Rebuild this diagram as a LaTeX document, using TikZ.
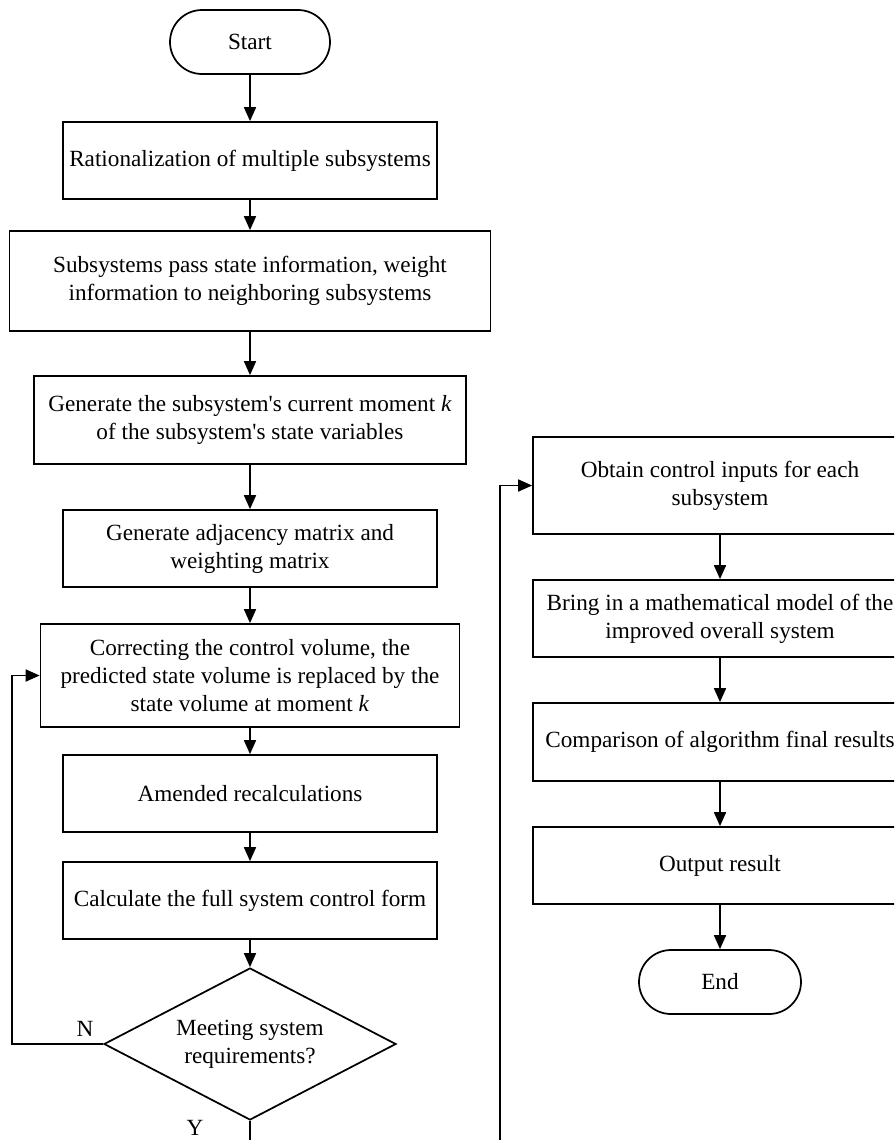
\documentclass[tikz,border=0pt]{standalone}
\usepackage{fontspec}
\setmainfont{Liberation Serif}
\usetikzlibrary{arrows.meta,positioning,calc,shapes.geometric}

\begin{document}
\begin{tikzpicture}[>={Triangle[length=10.5pt,width=9pt]}, line width=1.3pt, x=0.75pt, y=-0.75pt,
  every node/.style={font=\fontsize{17.4}{21}\selectfont},
  proc/.style={draw, align=center, inner sep=2pt, minimum width=280.5pt, minimum height=57.75pt},
  term/.style={draw, rounded corners=24pt, minimum width=120pt, minimum height=48pt},
  decide/.style={draw, diamond, shape aspect=1.92, inner sep=0pt, align=center,
    minimum width=219pt, minimum height=114pt}]
  \useasboundingbox (0,0) rectangle (894,1140);
  \clip (0,0) rectangle (894,1140);
  % left column
  \node[term] (start) at (250,42) {Start};
  \node[proc] (ratio) at (250,160.5) {Rationalization of multiple subsystems};
  \node[proc, minimum width=360.75pt, minimum height=75pt] (pass) at (250,281)
    {Subsystems pass state information, weight\\information to neighboring subsystems};
  \node[proc, minimum width=324pt, minimum height=66pt] (gen) at (250,420)
    {Generate the subsystem\textquotesingle s current moment \textit{k}\\of the subsystem\textquotesingle s state variables};
  \node[proc] (adj) at (250,548.5) {Generate adjacency matrix and\\weighting matrix};
  \node[proc, minimum width=314.25pt, minimum height=77.25pt] (corr) at (250,675.5)
    {Correcting the control volume, the\\predicted state volume is replaced by the\\state volume at moment \textit{k}};
  \node[proc] (amend) at (250,793.5) {Amended recalculations};
  \node[proc] (full) at (250,900.5) {Calculate the full system control form};
  \node[decide] (meet) at (250,1044) {Meeting system\\requirements?};
  % right column
  \node[proc, minimum height=72.75pt] (inputs) at (720,485.5) {Obtain control inputs for each\\subsystem};
  \node[proc] (model) at (720,618.5) {Bring in a mathematical model of the\\improved overall system};
  \node[proc, minimum height=58.5pt] (comp) at (720,742) {Comparison of algorithm final results};
  \node[proc] (out) at (720,865.5) {Output result};
  \node[term, minimum width=121.5pt] (end) at (720,982) {End};
  \foreach \a/\b in {start/ratio, ratio/pass, pass/gen, gen/adj, adj/corr, corr/amend,
    amend/full, full/meet, inputs/model, model/comp, comp/out, out/end}
    \draw[->] (\a) -- (\b);
  % loops back
  \coordinate (loopN) at (12,0);
  \coordinate (loopY) at (500,1180);
  \draw[->] (meet.west) -- (meet.west -| loopN) |- (corr.west);
  \draw[->] (meet.south) |- (loopY) |- (inputs.west);
  \node (lblN) at (85,1029) {N};
  \node (lblY) at (195,1128) {Y};
\end{tikzpicture}
\end{document}
